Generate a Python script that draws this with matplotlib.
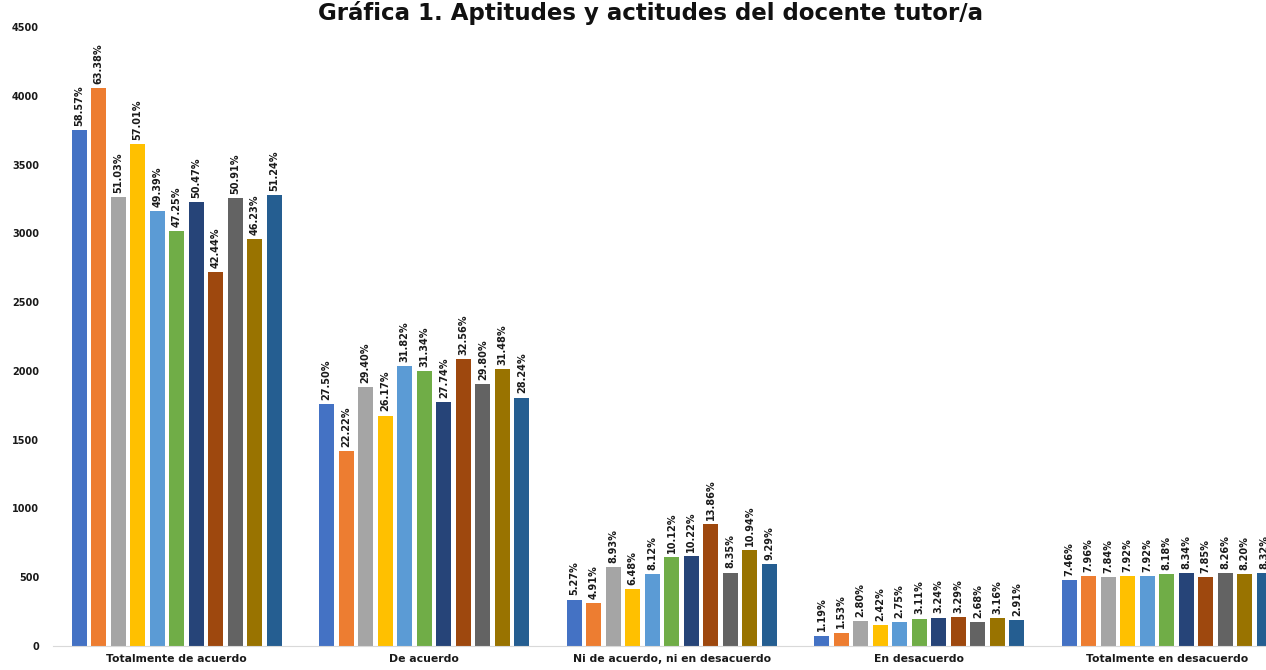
import numpy as np
import matplotlib
matplotlib.use("Agg")
import matplotlib.pyplot as plt

categories = ["Totalmente de acuerdo", "De acuerdo", "Ni de acuerdo, ni en desacuerdo",
              "En desacuerdo", "Totalmente en desacuerdo"]

# counts per series (11 series), one value per category
counts = [
    [3750, 1760, 337, 76, 478],
    [4055, 1420, 314, 98, 509],
    [3263, 1880, 571, 179, 501],
    [3648, 1675, 415, 155, 507],
    [3161, 2036, 520, 176, 507],
    [3016, 2000, 646, 199, 522],
    [3227, 1774, 653, 207, 533],
    [2718, 2085, 888, 211, 503],
    [3255, 1905, 534, 171, 528],
    [2958, 2014, 700, 202, 525],
    [3278, 1806, 594, 186, 532],
]

percents = [
    [58.57, 27.50, 5.27, 1.19, 7.46],
    [63.38, 22.22, 4.91, 1.53, 7.96],
    [51.03, 29.40, 8.93, 2.80, 7.84],
    [57.01, 26.17, 6.48, 2.42, 7.92],
    [49.39, 31.82, 8.12, 2.75, 7.92],
    [47.25, 31.34, 10.12, 3.11, 8.18],
    [50.47, 27.74, 10.22, 3.24, 8.34],
    [42.44, 32.56, 13.86, 3.29, 7.85],
    [50.91, 29.80, 8.35, 2.68, 8.26],
    [46.23, 31.48, 10.94, 3.16, 8.20],
    [51.24, 28.24, 9.29, 2.91, 8.32],
]

colors = ["#4472C4", "#ED7D31", "#A5A5A5", "#FFC000", "#5B9BD5", "#70AD47",
          "#264478", "#9E480E", "#636363", "#997300", "#255E91"]

fig = plt.figure(figsize=(12.66, 6.70), dpi=100)
ax = fig.add_axes([53 / 1266, 24 / 670, 1213 / 1266, 619 / 670])

x = np.arange(len(categories))
pitch = 0.0788
width = 0.062
n = len(counts)
for j in range(n):
    xs = x + (j - (n - 1) / 2) * pitch
    ax.bar(xs, counts[j], width=width, color=colors[j], zorder=2)
    for xi, v, p in zip(xs, counts[j], percents[j]):
        ax.annotate("%.2f%%" % p, (xi, v), xytext=(0, 3), textcoords="offset points",
                    rotation=90, ha="center", va="bottom", fontsize=7,
                    fontweight="bold", color="#1a1a1a", clip_on=False)

ax.set_xlim(-0.5, 4.401)
ax.set_ylim(0, 4500)
ax.set_yticks(np.arange(0, 4501, 500))
ax.set_xticks(x)
ax.set_xticklabels(categories)
for s in ["top", "right", "left"]:
    ax.spines[s].set_visible(False)
ax.spines["bottom"].set_color("#d9d9d9")
ax.tick_params(axis="y", length=0, labelsize=7, colors="#1a1a1a", pad=10)
ax.tick_params(axis="x", length=0, labelsize=7.8, colors="#1a1a1a", pad=6)
for lbl in ax.get_xticklabels() + ax.get_yticklabels():
    lbl.set_fontweight("bold")

fig.text(651 / 1266, 1 - 20 / 670, "Gráfica 1. Aptitudes y actitudes del docente tutor/a",
         ha="center", va="baseline", fontsize=16.5, fontweight="bold", color="#111111")

fig.savefig("out.png", dpi=100)
